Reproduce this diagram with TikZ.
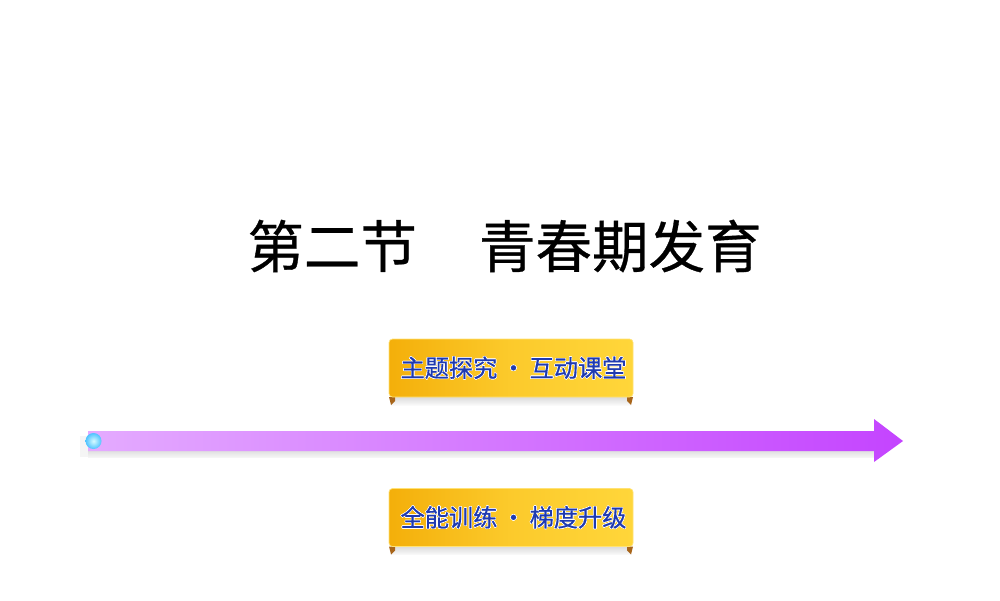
\documentclass[tikz,border=0pt]{standalone}
\usepackage{fontspec}
\usepackage[copies]{contour}
\setmainfont{Noto Sans CJK SC}[FakeBold=0.6]
\definecolor{RibbonBlue}{HTML}{1F3AB0}
\definecolor{RibbonGold}{HTML}{F4AF0A}
\definecolor{RibbonYellow}{HTML}{FFD63A}
\definecolor{TailBrown}{HTML}{A8651A}
\definecolor{ArrowLight}{HTML}{E4ABFF}
\definecolor{ArrowDark}{HTML}{C444FF}
\definecolor{BallBlue}{HTML}{4FC3FF}
\definecolor{BallLight}{HTML}{D8FBFF}
\tikzset{
    ribbon/.style={minimum width=2.44cm, minimum height=0.58cm, inner sep=0pt,
        rounded corners=1pt, left color=RibbonGold, right color=RibbonYellow,
        middle color=RibbonGold!30!RibbonYellow, draw=RibbonYellow!70!white, line width=0.2pt,
        text=RibbonBlue, font=\fontsize{2.42mm}{2.42mm}\selectfont},
    title/.style={font=\fontsize{5.65mm}{5.65mm}\selectfont, text=black},
}
\contourlength{0.15pt}
\contournumber{16}
\begin{document}
\begin{tikzpicture}
    \useasboundingbox (0,0) rectangle (10,6);

    % Title
    \node (title) [title, anchor=center] at (5.045,3.54) {第二节\hspace{1.1em}青春期发育};

    % Arrow shadow
    \fill [black!4] (0.80,1.43) rectangle (8.75,1.64);
    \shade [top color=black!12, bottom color=black!4] (0.88,1.43) rectangle (8.75,1.49);

    % Main arrow
    \shade [left color=ArrowLight, right color=ArrowDark]
        (0.88,1.69) -- (8.74,1.69) -- (8.74,1.81) -- (9.03,1.59) -- (8.74,1.38) -- (8.74,1.49) -- (0.88,1.49) -- cycle;

    % Ball
    \shade [inner color=BallLight, outer color=BallBlue] (0.935,1.59) circle (0.08);

    % Ribbons
    \foreach \ypos/\xtext/\name in {2.32/主题探究\,·\,互动课堂/upper, 0.825/全能训练\,·\,梯度升级/lower}{
        \shade [top color=black!14, bottom color=black!2] (3.91,\ypos-0.37) rectangle (6.31,\ypos-0.29);
        \fill [TailBrown] (3.89,\ypos-0.29) -- (3.95,\ypos-0.29) -- (3.95,\ypos-0.33) -- (3.91,\ypos-0.37) -- cycle;
        \fill [TailBrown] (6.33,\ypos-0.29) -- (6.27,\ypos-0.29) -- (6.27,\ypos-0.33) -- (6.31,\ypos-0.37) -- cycle;
        \node (ribbon\name) [ribbon] at (5.11,\ypos) {\hspace*{0.5mm}\raisebox{0.1mm}{\contour{white}{\xtext}}};
    }
\end{tikzpicture}
\end{document}
